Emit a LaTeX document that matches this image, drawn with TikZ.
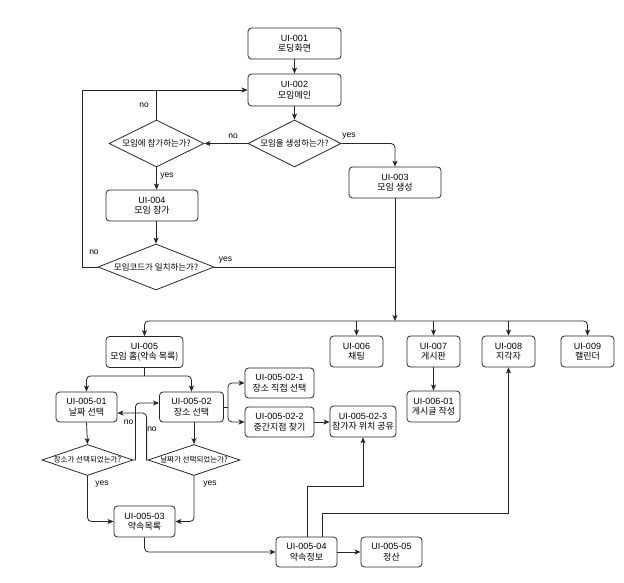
\documentclass[tikz,border=0pt]{standalone}
\usepackage{fontspec}
\setmainfont{Liberation Sans}
\newfontfamily\kr{Noto Sans CJK KR}
\usetikzlibrary{shapes.geometric,arrows.meta}
\begin{document}
\begin{tikzpicture}[x=1pt,y=-1pt,
  line/.style={draw=black!85, line width=0.8pt},
  arr/.style={line, -{Stealth[length=6pt,width=5pt,inset=1.5pt]}},
  rc/.style={rounded corners=4pt},
  box/.style={draw=black!85, line width=0.8pt, rounded corners=3.5pt, fill=white, align=center, inner sep=0pt, minimum height=31pt, font=\fontsize{9}{10.5}\selectfont},
  dia/.style={draw=black!85, line width=0.8pt, diamond, inner sep=0pt, fill=white},
  dtext/.style={font=\kr\fontsize{8.5}{10}\selectfont, inner sep=0pt},
  stext/.style={font=\kr\fontsize{7.5}{9}\selectfont, inner sep=0pt},
  lbl/.style={font=\fontsize{8.5}{10}\selectfont, inner sep=0pt},
]
\useasboundingbox (0,0) rectangle (624,583);

% boxes
\node[box, minimum width=93pt] (ui001) at (294.5,43.5) {UI-001\\{\kr 로딩화면}};
\node[box, minimum width=93pt, minimum height=32pt] (ui002) at (294.5,90) {UI-002\\{\kr 모임메인}};
\node[box, minimum width=92pt] (ui003) at (395,182.5) {UI-003\\{\kr 모임 생성}};
\node[box, minimum width=92pt] (ui004) at (152,205.5) {UI-004\\{\kr 모임 참가}};

\node[dia, minimum width=93pt, minimum height=47pt, label={[dtext]center:{모임을 생성하는가?}}] (dcreate) at (294.5,143.5) {};
\node[dia, minimum width=95pt, minimum height=47pt, label={[dtext]center:{모임에 참가하는가?}}] (djoin) at (156.5,143.5) {};
\node[dia, minimum width=116pt, minimum height=46pt, label={[dtext]center:{모임코드가 일치하는가?}}] (dcode) at (156,267) {};

\node[box, minimum width=77pt] (ui005) at (144.5,352) {UI-005\\{\kr 모임 홈(약속 목록)}};
\node[box, minimum width=53pt] (ui006) at (356.5,351.5) {UI-006\\{\kr 채팅}};
\node[box, minimum width=53pt] (ui007) at (433.5,351.5) {UI-007\\{\kr 게시판}};
\node[box, minimum width=53pt] (ui008) at (508.5,351.5) {UI-008\\{\kr 지각자}};
\node[box, minimum width=53pt] (ui009) at (587.5,351.5) {UI-009\\{\kr 캘린더}};

\node[box, minimum width=61pt, minimum height=30pt] (ui00501) at (86.5,407) {UI-005-01\\{\kr 날짜 선택}};
\node[box, minimum width=64pt, minimum height=30pt] (ui00502) at (191.5,407) {UI-005-02\\{\kr 장소 선택}};
\node[box, minimum width=69pt, minimum height=30pt] (ui005021) at (279.5,383) {UI-005-02-1\\{\kr 장소 직접 선택}};
\node[box, minimum width=69pt, minimum height=30pt] (ui005022) at (279.5,422) {UI-005-02-2\\{\kr 중간지점 찾기}};
\node[box, minimum width=66pt] (ui005023) at (363,421.5) {UI-005-02-3\\{\kr 참가자 위치 공유}};
\node[box, minimum width=53pt] (ui00601) at (433.5,406.5) {UI-006-01\\{\kr 게시글 작성}};

\node[dia, minimum width=91pt, minimum height=31pt, label={[stext]center:{장소가 선택되었는가?}}] (dplace) at (87.5,460) {};
\node[dia, minimum width=92pt, minimum height=31pt, label={[stext]center:{날짜가 선택되었는가?}}] (ddate) at (194,460) {};

\node[box, minimum width=61pt] (ui00503) at (144.5,521.5) {UI-005-03\\{\kr 약속목록}};
\node[box, minimum width=61pt, minimum height=30pt] (ui00504) at (306.5,552) {UI-005-04\\{\kr 약속정보}};
\node[box, minimum width=61pt, minimum height=30pt] (ui00505) at (391.5,552) {UI-005-05\\{\kr 정산}};

% connectors top part
\draw[arr] (ui001) -- (ui002);
\draw[arr] (ui002) -- (dcreate);
\draw[arr] (dcreate.west) -- (djoin.east);
\draw[arr, rc] (dcreate.east) -| (ui003.north);
\draw[line] (djoin.north) -- (djoin.north |- ui002.west);
\draw[arr] (dcode.west) -- ++(-15,0) |- (ui002.west);
\draw[arr] (djoin.south) -- (djoin.south |- ui004.north);
\draw[arr] (ui004.south -| dcode.north) -- (dcode.north);
\draw[line] (dcode.east) -- (dcode.east -| ui003.south);

\node[lbl] (lno1) at (233,136) {no};
\node[lbl] (lyes1) at (349,136) {yes};
\node[lbl] (lno2) at (144,105) {no};
\node[lbl] (lyes2) at (167,176) {yes};
\node[lbl] (lno3) at (94,252) {no};
\node[lbl] (lyes3) at (225.5,260) {yes};

% bus
\coordinate (bus) at (395,321);
\draw[arr] (ui003.south) -- (bus);
\draw[arr, rc] (bus) -| (ui005.north);
\draw[arr, rc] (bus) -| (ui009.north);
\draw[arr] (bus -| ui006.north) -- (ui006.north);
\draw[arr] (bus -| ui007.north) -- (ui007.north);
\draw[arr] (bus -| ui008.north) -- (ui008.north);

% UI-005 branches
\coordinate (b5) at (144.5,376);
\draw[line] (ui005.south) -- (b5);
\draw[arr, rc] (b5) -| (ui00501.north);
\draw[arr, rc] (b5) -| (ui00502.north);

\draw[arr] (ui00501.south) -- (dplace.north);
\draw[arr] (ui00502.south -| ddate.north) -- (ddate.north);

\draw[arr] (dplace.east) -- ++(2,0) [rc] |- ([yshift=4pt]ui00502.west);
\draw[arr] (ddate.west) -- ++(-1,0) [rc] |- ([yshift=-6pt]ui00501.east);

\node[lbl] (lno4) at (128.5,422) {no};
\node[lbl] (lno5) at (152,429) {no};

\draw[arr, rc] (dplace.south) |- (ui00503.west);
\draw[arr, rc] (ddate.south) |- (ui00503.east);
\node[lbl] (lyes4) at (102,484) {yes};
\node[lbl] (lyes5) at (210,484) {yes};

\draw[arr, rc] (ui00503.south) |- (ui00504.west);
\draw[arr] (ui00504.east) -- (ui00505.west);
\draw[arr] ([xshift=1pt]ui00504.north) -- ++(0,-50) -| (ui005023.south);
\draw[arr] ([xshift=16pt]ui00504.north) -- ++(0,-23) -| (ui008.south);

\draw[arr] (ui007.south) -- (ui00601.north);

\coordinate (b2) at (228,407);
\draw[line] (ui00502.east) -- (b2);
\draw[arr, rc] (b2) |- (ui005021.west);
\draw[arr, rc] (b2) |- (ui005022.west);
\draw[arr] (ui005022.east) -- (ui005022.east -| ui005023.west);
\end{tikzpicture}
\end{document}
